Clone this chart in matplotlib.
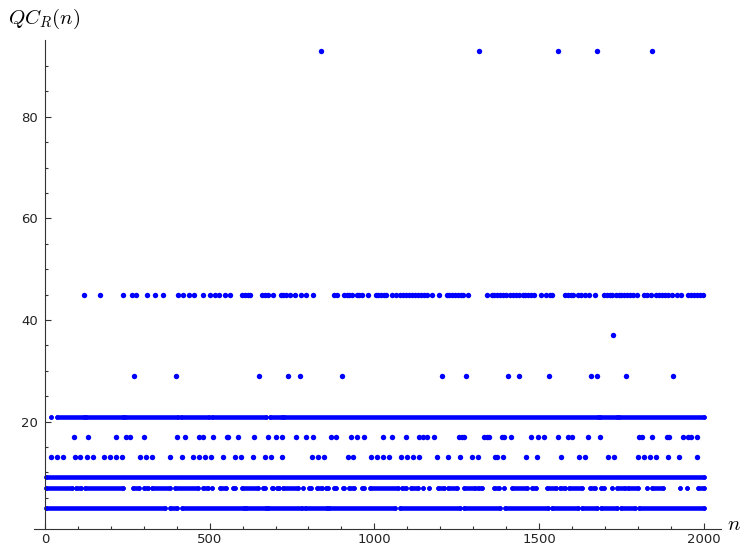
import numpy as np
import matplotlib
matplotlib.use("Agg")
import matplotlib.pyplot as plt
from matplotlib.ticker import FixedLocator

plt.rcParams["mathtext.fontset"] = "cm"

# runs of n where the dots sit next to each other (start, end)
runs3 = [(3, 364), (380, 400), (415, 604), (610, 670), (676, 780), (788, 855),
         (862, 1063), (1078, 1260), (1272, 1381), (1396, 1528), (1538, 1619),
         (1629, 1675), (1687, 1735), (1748, 1791), (1804, 2000)]
runs7 = [(3, 81), (94, 111), (122, 238), (268, 286), (302, 314), (326, 380),
         (395, 466), (481, 496), (508, 508), (533, 550), (570, 578), (597, 648),
         (661, 668), (688, 693), (705, 710), (722, 769), (784, 784), (801, 808),
         (827, 840), (853, 860), (877, 883), (904, 909), (924, 938), (961, 968),
         (987, 1073), (1083, 1096), (1110, 1133), (1147, 1147), (1167, 1167),
         (1194, 1211), (1224, 1252), (1272, 1305), (1315, 1326), (1363, 1379),
         (1393, 1393), (1417, 1462), (1477, 1490), (1523, 1551), (1563, 1579),
         (1592, 1629), (1654, 1670), (1687, 1697), (1720, 1720), (1735, 1761),
         (1771, 1801), (1826, 1826), (1842, 1877), (1928, 1928), (1948, 1948),
         (1981, 2000)]
runs9 = [(3, 2000)]
runs21 = [(20, 20), (36, 118), (126, 238), (244, 404), (412, 499), (506, 671),
          (682, 721), (727, 1678), (1685, 1737), (1743, 2000)]

# single dots
n13 = [18, 38, 56, 91, 108, 127, 145, 180, 197, 216, 233, 289, 307, 324, 380,
       415, 450, 469, 486, 505, 541, 577, 595, 631, 668, 685, 719, 810, 828, 847,
       919, 936, 990, 1007, 1025, 1045, 1081, 1100, 1118, 1136, 1189, 1224, 1260,
       1295, 1315, 1366, 1373, 1389, 1459, 1495, 1566, 1621, 1639, 1710, 1728,
       1801, 1819, 1837, 1855, 1890, 1926, 1980]
n17 = [89, 132, 216, 246, 258, 300, 401, 425, 468, 481, 509, 552, 557, 587, 636,
       678, 701, 719, 762, 792, 815, 868, 885, 928, 946, 969, 1025, 1055, 1096,
       1136, 1147, 1159, 1181, 1258, 1265, 1272, 1333, 1341, 1349, 1386, 1393,
       1415, 1474, 1498, 1516, 1558, 1589, 1601, 1649, 1685, 1804, 1811, 1842,
       1889, 1895, 1938, 1953, 1960, 1978]
n29 = [271, 397, 650, 739, 774, 901, 1206, 1278, 1405, 1440, 1531, 1656, 1675,
       1764, 1907]
n37 = [1725]
n45 = [119, 167, 238, 263, 278, 311, 335, 359, 405, 418, 438, 453, 479, 501, 516,
       528, 547, 561, 597, 606, 615, 624, 658, 668, 678, 693, 716, 724, 732, 744,
       759, 776, 791, 815, 877, 886, 908, 916, 924, 931, 946, 954, 961, 982, 1004,
       1012, 1020, 1028, 1036, 1052, 1065, 1078, 1087, 1097, 1106, 1115, 1124,
       1133, 1142, 1150, 1159, 1174, 1197, 1219, 1228, 1237, 1246, 1255, 1264,
       1270, 1285, 1341, 1356, 1364, 1373, 1381, 1390, 1399, 1412, 1421, 1430,
       1440, 1450, 1458, 1467, 1476, 1485, 1506, 1521, 1533, 1540, 1579, 1588,
       1596, 1604, 1619, 1628, 1639, 1652, 1670, 1697, 1706, 1714, 1720, 1733,
       1742, 1750, 1758, 1766, 1775, 1784, 1798, 1818, 1828, 1839, 1855, 1864,
       1873, 1882, 1892, 1902, 1917, 1930, 1953, 1961, 1970, 1979, 1988, 1998]
n93 = [838, 1317, 1556, 1676, 1844]

blue = "#0000ff"
dot = 3.3
axcol = "#333333"

fig = plt.figure(figsize=(7.41, 5.48), dpi=100)
ax = fig.add_axes([34 / 741, 19 / 548, 687 / 741, 489 / 548])

for level, runs in [(3, runs3), (7, runs7), (9, runs9), (21, runs21)]:
    for a, b in runs:
        ax.plot([a, b], [level, level], "-o", color=blue, lw=dot, ms=dot,
                solid_capstyle="round", mew=0)

for level, ns in [(13, n13), (17, n17), (29, n29), (37, n37), (45, n45), (93, n93)]:
    ax.plot(ns, [level] * len(ns), "o", color=blue, ms=dot + 0.6, mew=0)

ax.set_xlim(-33, 2052)
ax.set_ylim(-1.14, 95.1)
ax.spines["left"].set_position(("data", 0))
ax.spines["top"].set_visible(False)
ax.spines["right"].set_visible(False)
for s in ["left", "bottom"]:
    ax.spines[s].set_color(axcol)
    ax.spines[s].set_linewidth(0.8)

ax.xaxis.set_major_locator(FixedLocator([0, 500, 1000, 1500, 2000]))
ax.xaxis.set_minor_locator(FixedLocator(np.arange(0, 2001, 100)))
ax.yaxis.set_major_locator(FixedLocator([20, 40, 60, 80]))
ax.yaxis.set_minor_locator(FixedLocator(np.arange(5, 95, 5)))
ax.tick_params(which="both", direction="in", color=axcol, width=0.8,
               labelsize=9.5, labelcolor="#222222")
ax.tick_params(which="major", length=4.3)
ax.tick_params(which="minor", length=2.5)
ax.tick_params(axis="y", pad=5)
ax.tick_params(axis="x", pad=3)

fig.text(8 / 741, 1 - 19 / 548, r"$QC_R(n)$", fontsize=15, va="center", ha="left")
fig.text(727 / 741, 1 - 524 / 548, r"$n$", fontsize=15, va="center", ha="left")

fig.savefig("out.png", dpi=100)
